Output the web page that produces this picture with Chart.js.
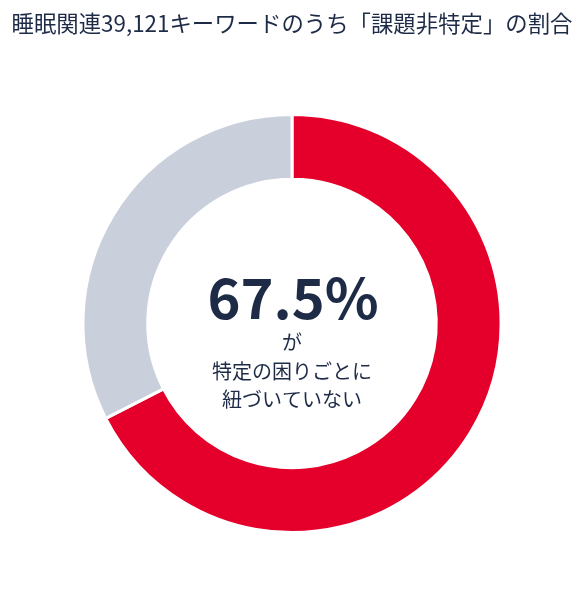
<!DOCTYPE html>
<html>
<head>
<meta charset="utf-8">
<script src="https://cdn.jsdelivr.net/npm/chart.js@4"></script>
<style>
html,body{margin:0;padding:0;background:#fff;}
#wrap{width:584px;height:600px;position:relative;}
</style>
</head>
<body>
<div id="wrap"><canvas id="c"></canvas></div>
<script>
const categories = ["課題非特定", "課題特定"];
const values = [67.5, 32.5];
const seriesColors = ["#e4002b", "#c9cfdb"];
const titleText = "睡眠関連39,121キーワードのうち「課題非特定」の割合";
const centerValue = "67.5%";
const centerLines = ["が", "特定の困りごとに", "紐づいていない"];

const FONT = '"Noto Sans CJK JP", "Noto Sans", sans-serif';
const INK = "#1e2b47";

const centerText = {
  id: "centerText",
  afterDatasetsDraw(chart) {
    const meta = chart.getDatasetMeta(0);
    const arc = meta.data[0];
    const cx = arc.x, cy = arc.y;
    const ctx = chart.ctx;
    ctx.save();
    ctx.fillStyle = INK;
    ctx.textAlign = "center";
    ctx.textBaseline = "alphabetic";
    ctx.font = "bold 56px " + FONT;
    ctx.fillText(centerValue, cx + 1, cy - 4);
    ctx.textBaseline = "middle";
    ctx.font = "20px " + FONT;
    centerLines.forEach((t, i) => {
      ctx.fillText(t, cx, cy + 19 + i * 28.5);
    });
    ctx.restore();
  }
};

new Chart(document.getElementById("c"), {
  type: "doughnut",
  data: {
    labels: categories,
    datasets: [{
      data: values,
      backgroundColor: seriesColors,
      borderColor: "#ffffff",
      borderWidth: 3,
      hoverOffset: 0
    }]
  },
  options: {
    responsive: true,
    maintainAspectRatio: false,
    animation: false,
    cutout: "69%",
    layout: { padding: { top: 0, bottom: 66, left: 0, right: 0 } },
    plugins: {
      legend: { display: false },
      tooltip: { enabled: false },
      title: {
        display: true,
        text: titleText,
        color: INK,
        font: { family: FONT, size: 22.4, weight: "normal", lineHeight: 1.2 },
        padding: { top: 10, bottom: 76 }
      }
    }
  },
  plugins: [centerText]
});
</script>
</body>
</html>
